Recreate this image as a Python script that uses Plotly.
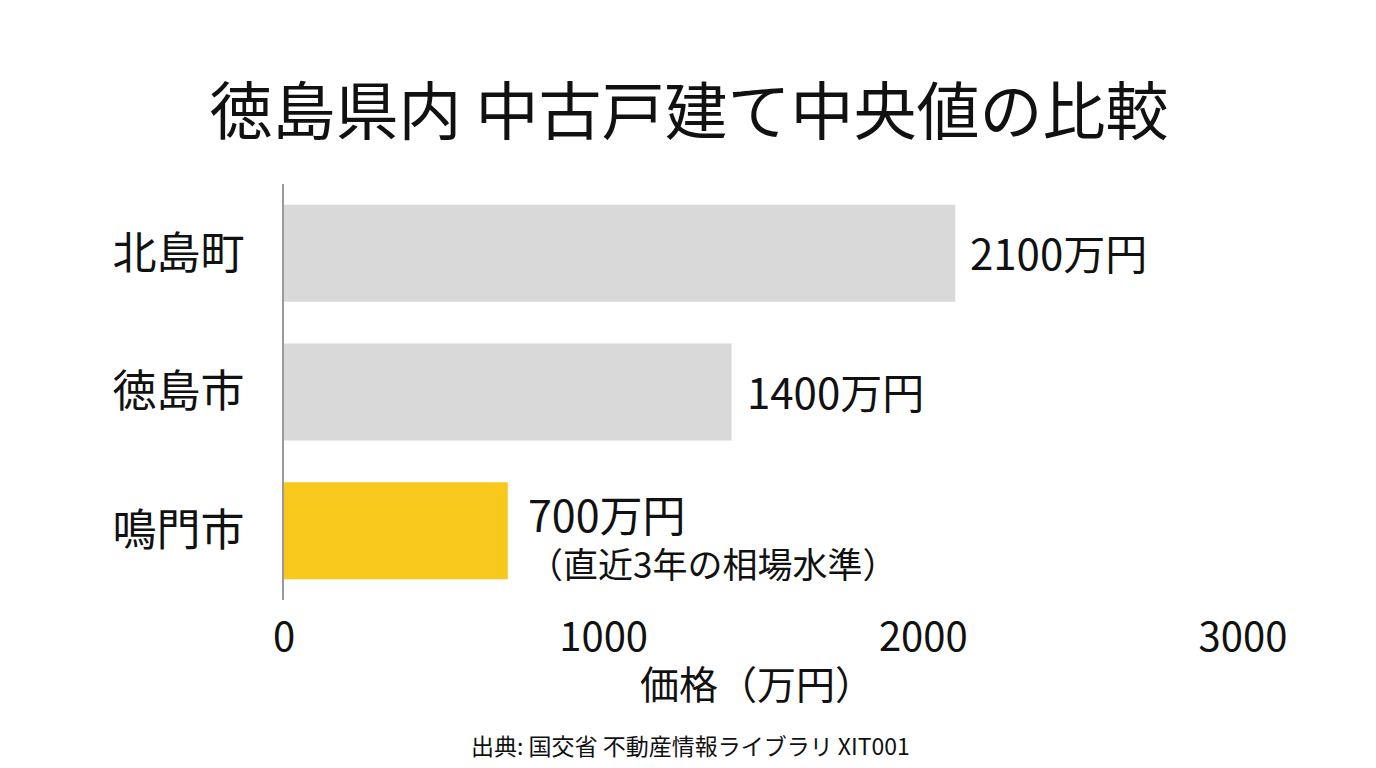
import plotly.graph_objects as go

areas = ["北島町", "徳島市", "鳴門市"]
prices = [2100, 1400, 700]
bar_colors = ["#D9D9D9", "#D9D9D9", "#F8C81C"]
value_labels = ["2100万円", "1400万円", "700万円"]
notes = ["", "", "（直近3年の相場水準）"]
x_ticks = [0, 1000, 2000, 3000]

FONT = "Noto Sans CJK JP"

fig = go.Figure()
fig.add_trace(go.Bar(
    y=areas, x=prices, orientation="h",
    marker=dict(color=bar_colors, line=dict(width=0)),
    width=0.7, showlegend=False, hoverinfo="skip",
))

for a, p, lab, note in zip(areas, prices, value_labels, notes):
    if note:
        fig.add_annotation(x=p, y=a, xref="x", yref="y",
                           text=f"<span style='font-size:43px'>{lab}</span><br>{note}",
                           showarrow=False, align="left",
                           xanchor="left", yanchor="middle", xshift=18, yshift=-4,
                           font=dict(family=FONT, size=35, color="#111"))
    else:
        fig.add_annotation(x=p, y=a, xref="x", yref="y", text=lab, showarrow=False,
                           xanchor="left", yanchor="middle", xshift=13, yshift=2,
                           font=dict(family=FONT, size=42, color="#111"))

fig.update_layout(
    width=1376, height=768,
    paper_bgcolor="white", plot_bgcolor="white",
    margin=dict(l=276, r=141, t=176, b=176),
    font=dict(family=FONT, color="#111"),
    title=dict(text="徳島県内 中古戸建て中央値の比較", x=681 / 1376, xanchor="center",
               y=1 - 104 / 768, yanchor="middle", yref="container",
               font=dict(family=FONT, size=63, color="#111")),
    xaxis=dict(range=[0, 3000], tickvals=x_ticks, ticktext=[str(v) for v in x_ticks],
               showgrid=False, zeroline=False, showline=False, ticks="",
               tickfont=dict(family=FONT, size=40, color="#111"),
               ticklabelstandoff=10),
    yaxis=dict(categoryorder="array", categoryarray=areas[::-1],
               showgrid=False, zeroline=False, showline=True, linecolor="#9A9A9A",
               linewidth=1.5, ticks="", tickfont=dict(family=FONT, size=44, color="#111"),
               ticklabelstandoff=29),
    bargap=0.3,
)

fig.add_annotation(x=0.493, xref="paper", y=-(682 - 600) / 416, yref="paper",
                   text="価格（万円）", showarrow=False, xanchor="center", yanchor="middle",
                   font=dict(family=FONT, size=39, color="#111"))
fig.add_annotation(x=0.4235, xref="paper", y=-(745 - 600) / 416, yref="paper",
                   text="出典: 国交省 不動産情報ライブラリ XIT001", showarrow=False,
                   xanchor="center", yanchor="middle",
                   font=dict(family=FONT, size=23, color="#111"))

fig.write_html("out.html")
